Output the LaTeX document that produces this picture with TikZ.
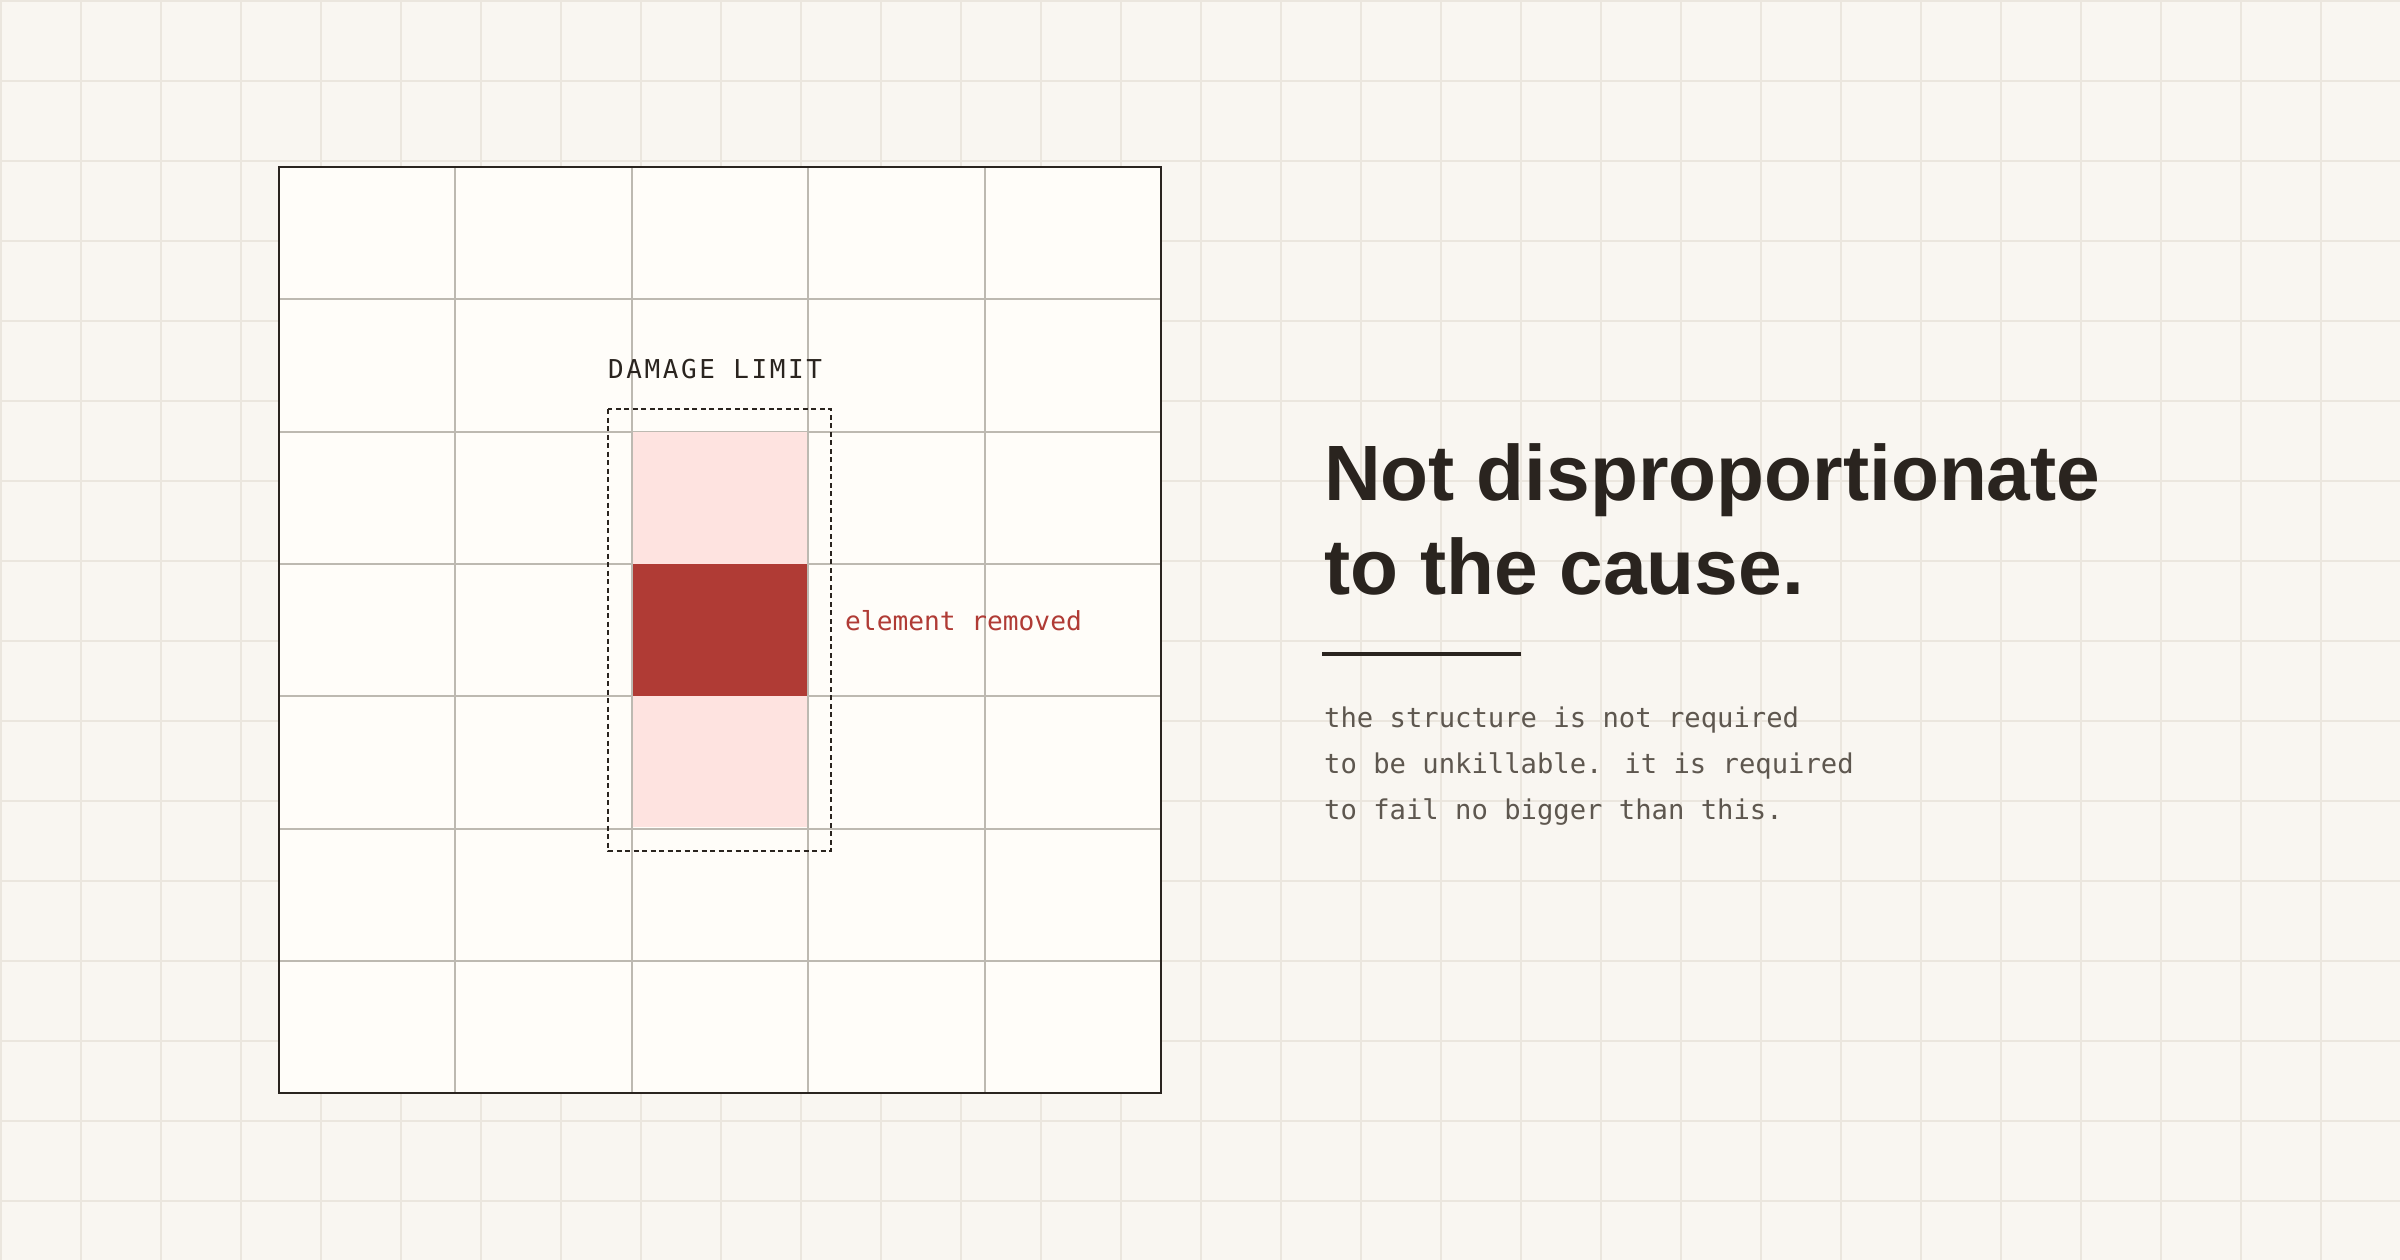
\documentclass[tikz,border=0pt]{standalone}
\usepackage{fontspec}
\usepackage{tikz}
\usetikzlibrary{positioning}

\newfontfamily\headsans{Liberation Sans}
\newfontfamily\labelmono{DejaVu Sans Mono}
\newfontfamily\spacedmono[LetterSpace=10]{DejaVu Sans Mono}

\definecolor{paper}{HTML}{F9F6F1}
\definecolor{paperrule}{HTML}{EBE6DE}
\definecolor{panel}{HTML}{FFFDF9}
\definecolor{cellrule}{HTML}{BDB9B1}
\definecolor{ink}{HTML}{2A241F}
\definecolor{softpink}{HTML}{FEE3E0}
\definecolor{brick}{HTML}{B03B35}
\definecolor{bodygrey}{HTML}{5E574F}

\begin{document}
\begin{tikzpicture}[x=1pt,y=-1pt,
    paperline/.style={color=paperrule,line width=2},
    cellline/.style={color=cellrule,line width=2},
    txt/.style={inner sep=0,anchor=base west},
    bodyline/.style={txt,text=bodygrey,font=\labelmono\fontsize{27.2}{46}\selectfont}]
        \useasboundingbox (0,0) rectangle (2400,1260);
        \fill[paper] (0,0) rectangle (2400,1260);
        \foreach \x in {1,81,...,2400} \draw[paperline] (\x,0)--(\x,1260);
        \foreach \y in {1,81,...,1260} \draw[paperline] (0,\y)--(2400,\y);
        % panel with cell grid
        \fill[panel] (279,167) rectangle (1161,1093);
        \foreach \i in {1,...,4} \draw[cellline] ({279+176.4*\i},167)--++(0,926);
        \foreach \j in {1,...,6} \draw[cellline] (279,{167+132.3*\j})--++(882,0);
        \fill[softpink] (632.5,431.6) rectangle (807.2,563.9);
        \fill[brick] (632.5,563.9) rectangle (807.2,696.1);
        \fill[softpink] (632.5,696.1) rectangle (807.2,827.4);
        \draw[ink,line width=2.5] (279,167) rectangle (1161,1093);
        \draw[ink,line width=1.6,dash pattern=on 5pt off 3.5pt] (608,409) rectangle (831,851);
        \node[txt,text=ink,font=\spacedmono\fontsize{26}{30}\selectfont] (limit) at (608,378) {DAMAGE LIMIT};
        \node[txt,text=brick,font=\labelmono\fontsize{26.2}{30}\selectfont] (removed) at (845,630) {element removed};
        % right-hand text
        \node[txt,text=ink,font=\headsans\bfseries\fontsize{78.5}{94}\selectfont] (head1) at (1324,500) {Not disproportionate};
        \node[txt,text=ink,font=\headsans\bfseries\fontsize{78.5}{94}\selectfont] (head2) at (1324,594) {to the cause.};
        \draw[ink,line width=4] (1322,654)--(1521,654);
        \node[bodyline] (body1) at (1324,727) {the structure is not required};
        \node[bodyline] (body2) at (1324,773) {to be unkillable. it is required};
        \node[bodyline] (body3) at (1324,819) {to fail no bigger than this.};
\end{tikzpicture}
\end{document}
